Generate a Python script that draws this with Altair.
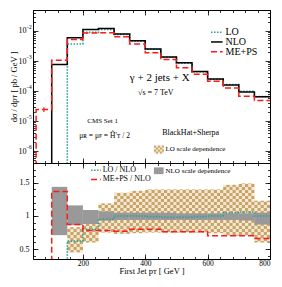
import altair as alt
import pandas as pd

SERIF = "Liberation Serif"

# ---------------- data (bins of 50 GeV, value per bin lower edge) ----------------
bin_w = 50
x_end = 800

nlo_start = 100
nlo_vals = [7.7e-4, 6.0e-3, 1.12e-2, 1.22e-2, 7.9e-3, 4.7e-3, 2.5e-3, 1.37e-3,
            8.7e-4, 4.5e-4, 2.5e-4, 1.6e-4, 9.3e-5, 6.5e-5]
lo_start = 150
lo_vals = [3.7e-3, 9.0e-3, 1.13e-2, 7.7e-3, 4.6e-3, 2.45e-3, 1.33e-3, 8.4e-4,
           4.3e-4, 2.45e-4, 1.65e-4, 9.8e-5, 6.5e-5]
meps_start = 50
meps_vals = [2.4e-5, 1.05e-3, 5.2e-3, 8.5e-3, 8.7e-3, 6.4e-3, 3.7e-3, 1.9e-3,
             1.12e-3, 6.0e-4, 3.6e-4, 2.1e-4, 1.26e-4, 6.7e-5, 4.8e-5]
meps_err_x = [75]
meps_err_lo = [2.0e-5]
meps_err_hi = [2.9e-5]

nlo_band_start = 100
nlo_band_lo = [0.71, 0.86, 0.88, 0.93, 0.94, 0.94, 0.94, 0.94, 0.94, 0.94, 0.94, 0.94, 0.93, 0.87]
nlo_band_hi = [1.44, 1.16, 1.09, 1.07, 1.05, 1.05, 1.05, 1.05, 1.04, 1.04, 1.04, 1.04, 1.04, 1.05]
lo_band_start = 150
lo_band_lo = [0.45, 0.60, 0.75, 0.73, 0.74, 0.75, 0.75, 0.75, 0.75, 0.74, 0.70, 0.70, 0.60]
lo_band_hi = [0.83, 0.89, 1.19, 1.35, 1.38, 1.40, 1.40, 1.40, 1.40, 1.40, 1.47, 1.49, 1.23]
lo_ratio_start = 150
lo_ratio = [0.62, 0.80, 0.95, 1.00, 1.00, 0.99, 0.98, 0.98, 0.99, 1.00, 1.05, 1.06, 1.00]
meps_ratio_start = 100
meps_ratio = [1.37, 0.87, 0.78, 0.78, 0.77, 0.80, 0.80, 0.76, 0.76, 0.76, 0.70, 0.70, 0.70, 0.66]

X_MIN, X_MAX = 40, 800
YT_MIN, YT_MAX = 4e-7, 5e-2
YB_MIN, YB_MAX = 0.35, 1.8

x_ticks_major = [200, 400, 600, 800]
x_ticks_minor = list(range(40, 801, 40))
y_top_major = [1e-6, 1e-5, 1e-4, 1e-3, 1e-2]
y_top_exp = ["−6", "−5", "−4", "−3", "−2"]
y_top_minor = [m * 10.0 ** e for e in range(-7, -1) for m in range(2, 10)
               if YT_MIN <= m * 10.0 ** e <= YT_MAX]
y_bot_major = [0.5, 1.0, 1.5]
y_bot_minor = [round(0.4 + 0.1 * i, 2) for i in range(15)]

TEAL = "#2f9e96"
RED = "#ff1a1a"
GREY = "#999999"
TAN_LIGHT = "#f3e8d2"
TAN_DARK = "#c9a367"

W_PLOT, H_TOP, H_BOT = 237, 153, 96


# reference-picture pixel positions -> panel pixel positions
def px(x):
    return (x - 30) * W_PLOT / 245


def pyt(y):
    return (y - 10) * H_TOP / 158


def pyb(y):
    return (y - 168) * H_BOT / 99


def step_df(start, vals, floor):
    xs = [start - bin_w] + [start + i * bin_w for i in range(len(vals))] + [x_end]
    ys = [floor] + list(vals) + [vals[-1]]
    return pd.DataFrame({"x": xs, "y": ys})


def band_df(start, lo, hi):
    return pd.DataFrame({"x": [start + i * bin_w for i in range(len(lo))],
                         "x2": [start + (i + 1) * bin_w for i in range(len(lo))],
                         "lo": lo, "hi": hi})


def checker_df(start, lo, hi, ncol=5):
    # texture of the LO band: squares on a fixed grid, kept inside each bin's band
    dx = bin_w / ncol
    dy = (YB_MAX - YB_MIN) / H_BOT * 3.0
    rows = []
    for i in range(len(lo)):
        x0 = start + i * bin_w
        for j in range(ncol):
            cx = x0 + j * dx
            cgi = int(round((cx - X_MIN) / dx))
            r = 0
            while True:
                y0 = YB_MIN + r * dy
                y1 = y0 + dy
                if y0 >= hi[i]:
                    break
                if y1 > lo[i] and (cgi + r) % 2 == 0:
                    rows.append({"x": cx, "x2": cx + dx,
                                 "lo": max(y0, lo[i]), "hi": min(y1, hi[i])})
                r += 1
    return pd.DataFrame(rows)


xs = alt.Scale(domain=[X_MIN, X_MAX], nice=False, zero=False)
ys_top = alt.Scale(type="log", domain=[YT_MIN, YT_MAX], nice=False)
ys_bot = alt.Scale(domain=[YB_MIN, YB_MAX], nice=False, zero=False)

one = pd.DataFrame({"k": [0]})


def tick_axis(orient, values, size):
    return alt.Axis(orient=orient, values=values, tickSize=size, offset=-size,
                    labels=False, domain=False, grid=False, ticks=True,
                    tickColor="black", tickWidth=0.8, title=None)


def carriers(df, yscale, pairs):
    out = []
    for xa, ya in pairs:
        out.append(alt.Chart(df).mark_line(strokeOpacity=0).encode(
            x=alt.X("x:Q", scale=xs, axis=xa),
            y=alt.Y("y:Q", scale=yscale, axis=ya)))
    return out


def step_line(df, yscale, color, dash, width=1.5):
    kw = dict(interpolate="step-after", color=color, strokeWidth=width, clip=True)
    if dash:
        kw["strokeDash"] = dash
    return alt.Chart(df).mark_line(**kw).encode(
        x=alt.X("x:Q", scale=xs, axis=None),
        y=alt.Y("y:Q", scale=yscale, axis=None))


def txt(text, x, y, size, align="left"):
    return alt.Chart(one).mark_text(text=text, align=align, baseline="middle",
                                    font=SERIF, fontSize=size, color="black").encode(
        x=alt.value(x), y=alt.value(y))


def leg_line(x1, x2, y, color, dash, width=1.5):
    kw = dict(color=color, strokeWidth=width)
    if dash:
        kw["strokeDash"] = dash
    return alt.Chart(one).mark_rule(**kw).encode(
        x=alt.value(x1), x2=alt.value(x2), y=alt.value(y))


def swatch(x1, x2, y1, y2, color):
    return alt.Chart(one).mark_rect(color=color).encode(
        x=alt.value(x1), x2=alt.value(x2), y=alt.value(y1), y2=alt.value(y2))


def checker_swatch(x1, y1, ncol, nrow, size):
    cells = [{"px": x1 + c * size, "px2": x1 + (c + 1) * size,
              "py": y1 + r * size, "py2": y1 + (r + 1) * size}
             for r in range(nrow) for c in range(ncol) if (r + c) % 2 == 0]
    base = swatch(x1, x1 + ncol * size, y1, y1 + nrow * size, TAN_LIGHT)
    sq = alt.Chart(pd.DataFrame(cells)).mark_rect(color=TAN_DARK).encode(
        x=alt.X("px:Q", scale=None, axis=None), x2="px2:Q",
        y=alt.Y("py:Q", scale=None, axis=None), y2="py2:Q")
    return [base, sq]


# ---------------- top panel ----------------
nlo_df = step_df(nlo_start, nlo_vals, 1e-9)
lo_df = step_df(lo_start, lo_vals, 1e-9)
meps_df = step_df(meps_start, meps_vals, 1e-9)
err_df = pd.DataFrame({"x": meps_err_x, "lo": meps_err_lo, "hi": meps_err_hi})
exp_df = pd.DataFrame({"v": y_top_major, "s": y_top_exp})

top_label_axis = alt.Axis(orient="left", values=y_top_major, labelExpr="'10'",
                          ticks=False, domain=False, grid=False, labelPadding=7,
                          labelFontSize=8, title="dσ / dpᴛ   [ pb / GeV ]",
                          titleFontSize=8.5, titlePadding=0, titleFontWeight="normal")

top_layers = carriers(nlo_df, ys_top, [
    (tick_axis("bottom", x_ticks_major, 5), top_label_axis),
    (tick_axis("bottom", x_ticks_minor, 2.5), tick_axis("left", y_top_major, 5)),
    (tick_axis("top", x_ticks_major, 5), tick_axis("left", y_top_minor, 2.5)),
    (tick_axis("top", x_ticks_minor, 2.5), tick_axis("right", y_top_major, 5)),
    (None, tick_axis("right", y_top_minor, 2.5)),
])
top_layers += [
    # exponents of the 10^n tick labels
    alt.Chart(exp_df).mark_text(align="left", baseline="middle", font=SERIF,
                                fontSize=5.5, dy=-4, color="black").encode(
        x=alt.value(-7), y=alt.Y("v:Q", scale=ys_top, axis=None), text="s:N"),
    alt.Chart(err_df).mark_rule(color=RED, strokeWidth=1.2).encode(
        x=alt.X("x:Q", scale=xs, axis=None),
        y=alt.Y("lo:Q", scale=ys_top, axis=None), y2="hi:Q"),
    step_line(lo_df, ys_top, TEAL, [1.5, 1.5], 1.6),
    step_line(nlo_df, ys_top, "black", None, 1.5),
    step_line(meps_df, ys_top, RED, [6, 3], 1.5),
    leg_line(px(214), px(226), pyt(33), TEAL, [1.5, 1.5], 1.6), txt("LO", px(229), pyt(33), 10),
    leg_line(px(214), px(226), pyt(43), "black", None), txt("NLO", px(229), pyt(43), 10),
    leg_line(px(214), px(226), pyt(53), RED, [6, 3]), txt("ME+PS", px(229), pyt(53), 10),
    txt("γ + 2 jets + X", px(161), pyt(80), 11, "center"),
    txt("√s  =  7 TeV", px(157), pyt(96), 8, "center"),
    txt("CMS Set 1", px(102), pyt(125), 7, "center"),
    txt("μʀ = μꜰ = Ĥ′ᴛ / 2", px(104), pyt(140), 7.5, "center"),
    txt("BlackHat+Sherpa", px(193), pyt(137), 8, "center"),
    txt("LO scale dependence", px(167), pyt(153.5), 7),
] + checker_swatch(px(155), pyt(150), 5, 4, 2)
top = alt.layer(*top_layers).resolve_axis(x="independent", y="independent").properties(
    width=W_PLOT, height=H_TOP)

# ---------------- bottom panel ----------------
nlo_band = band_df(nlo_band_start, nlo_band_lo, nlo_band_hi)
lo_band = band_df(lo_band_start, lo_band_lo, lo_band_hi)
lo_cells = checker_df(lo_band_start, lo_band_lo, lo_band_hi)
lo_ratio_df = step_df(lo_ratio_start, lo_ratio, 0.0)
meps_ratio_df = step_df(meps_ratio_start, meps_ratio, 0.0)

bot_label_y = alt.Axis(orient="left", values=y_bot_major,
                       labelExpr="datum.value == 1 ? '1' : format(datum.value, '.1f')",
                       ticks=False, domain=False, grid=False, labelPadding=4,
                       labelFontSize=8, title=None)
bot_label_x = alt.Axis(orient="bottom", values=x_ticks_major, ticks=False, domain=False,
                       grid=False, labelPadding=0, labelFontSize=7.5, labelFlush=True,
                       title="First Jet  pᴛ   [ GeV ]", titleFontSize=8.5, titlePadding=0,
                       titleFontWeight="normal")

bot_layers = carriers(lo_ratio_df, ys_bot, [
    (bot_label_x, bot_label_y),
    (tick_axis("bottom", x_ticks_major, 5), tick_axis("left", y_bot_major, 5)),
    (tick_axis("bottom", x_ticks_minor, 2.5), tick_axis("left", y_bot_minor, 2.5)),
    (tick_axis("top", x_ticks_major, 5), tick_axis("right", y_bot_major, 5)),
    (tick_axis("top", x_ticks_minor, 2.5), tick_axis("right", y_bot_minor, 2.5)),
])
bot_layers += [
    alt.Chart(lo_band).mark_rect(color=TAN_LIGHT).encode(
        x=alt.X("x:Q", scale=xs, axis=None), x2="x2:Q",
        y=alt.Y("lo:Q", scale=ys_bot, axis=None), y2="hi:Q"),
    alt.Chart(lo_cells).mark_rect(color=TAN_DARK).encode(
        x=alt.X("x:Q", scale=xs, axis=None), x2="x2:Q",
        y=alt.Y("lo:Q", scale=ys_bot, axis=None), y2="hi:Q"),
    alt.Chart(nlo_band).mark_rect(color=GREY).encode(
        x=alt.X("x:Q", scale=xs, axis=None), x2="x2:Q",
        y=alt.Y("lo:Q", scale=ys_bot, axis=None), y2="hi:Q"),
    step_line(lo_ratio_df, ys_bot, TEAL, [1.5, 1.5], 1.6),
    step_line(meps_ratio_df, ys_bot, RED, [6, 3], 1.5),
    leg_line(px(90), px(100), pyb(175.5), TEAL, [1.5, 1.5], 1.6),
    txt("LO / NLO", px(102), pyb(175.5), 8),
    leg_line(px(90), px(100), pyb(185), RED, [6, 3]),
    txt("ME+PS / NLO", px(102), pyb(185), 8),
    swatch(px(155), px(165), pyb(172.5), pyb(179.5), GREY),
    txt("NLO scale dependence", px(167), pyb(176), 7),
]
bottom = alt.layer(*bot_layers).resolve_axis(x="independent", y="independent").properties(
    width=W_PLOT, height=H_BOT)

chart = alt.vconcat(top, bottom, spacing=0, bounds="flush").properties(
    padding={"left": 0, "top": 1, "right": 0, "bottom": 0}
).configure_view(stroke="black", strokeWidth=1).configure_axis(
    labelFont=SERIF, titleFont=SERIF, labelColor="black", titleColor="black")

chart.save("out.html", embed_options={"renderer": "svg", "actions": False})
